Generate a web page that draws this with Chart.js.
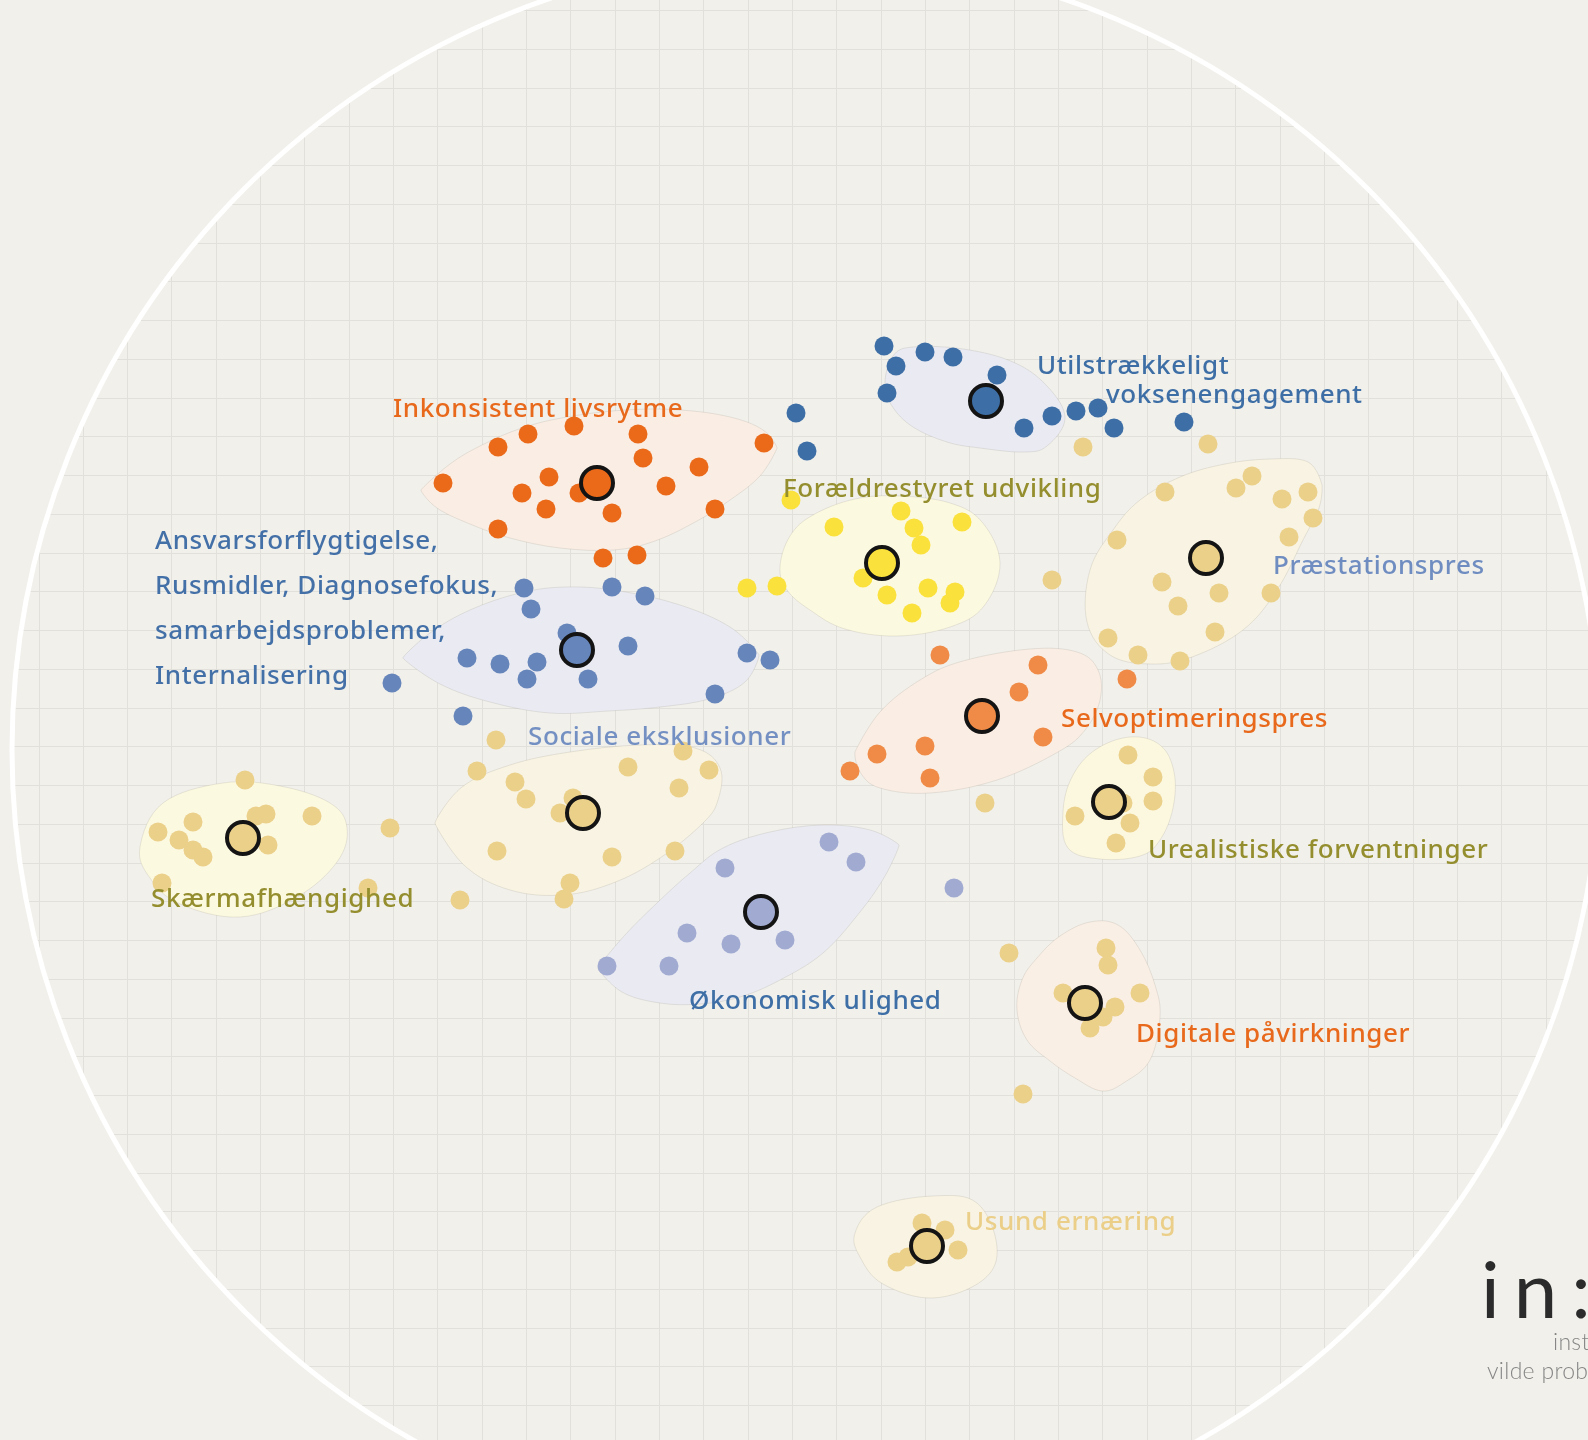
<!DOCTYPE html>
<html>
<head>
<meta charset="utf-8">
<script src="https://cdn.jsdelivr.net/npm/chart.js@4.4.1/dist/chart.umd.min.js"></script>
<style>
  html, body { margin: 0; padding: 0; background: #F1F0EB; }
  #wrap { width: 1588px; height: 1440px; }
</style>
</head>
<body>
<div id="wrap"><canvas id="map" width="1588" height="1440"></canvas></div>
<script>
// map coordinates (plane of 1588 x 1440 map units)

// --- cluster members
const inkonsistentPts = [[443,483],[498,447],[528,434],[574,426],[638,434],[643,458],[549,477],[522,493],[546,509],[579,493],[612,513],[666,486],[699,467],[764,443],[715,509],[498,529],[603,558],[637,555]];
const ansvarPts = [[524,588],[612,587],[531,609],[567,633],[467,658],[500,664],[537,662],[527,679],[588,679],[628,646],[645,596],[392,683],[463,716],[747,653],[770,660],[715,694]];
const utilPts = [[884,346],[925,352],[953,357],[896,366],[997,375],[887,393],[1052,416],[1076,411],[1098,408],[1024,428],[1114,428],[1184,422],[796,413],[807,451]];
const foraeldrePts = [[791,500],[834,527],[901,511],[914,528],[921,545],[962,522],[863,578],[887,595],[928,588],[955,592],[950,603],[912,613],[747,588],[777,586]];
const praestPts = [[1083,447],[1208,444],[1165,492],[1236,488],[1252,476],[1282,499],[1308,492],[1313,518],[1289,537],[1117,540],[1052,580],[1162,582],[1219,593],[1178,606],[1271,593],[1215,632],[1108,638],[1138,655],[1180,661]];
const selvPts = [[940,655],[1038,665],[1019,692],[1127,679],[1043,737],[925,746],[877,754],[850,771],[930,778]];
const urealPts = [[1128,755],[1153,777],[1153,801],[1130,823],[1116,843],[1075,816],[1123,803],[985,803]];
const socialePts = [[496,740],[477,771],[515,782],[526,799],[560,813],[573,798],[497,851],[612,857],[570,883],[564,899],[628,767],[683,751],[709,770],[679,788],[675,851]];
const skaermPts = [[245,780],[193,822],[158,832],[179,840],[193,850],[203,857],[256,816],[266,814],[268,845],[312,816],[390,828],[162,883],[368,888],[460,900]];
const oekonomiPts = [[829,842],[856,862],[725,868],[687,933],[731,944],[785,940],[607,966],[669,966],[954,888]];
const digitalPts = [[1106,948],[1108,965],[1063,993],[1140,993],[1115,1007],[1103,1017],[1090,1028],[1009,953],[1023,1094]];
const usundPts = [[922,1223],[945,1230],[958,1250],[897,1262],[908,1257]];

// --- cluster centres
const centres = {
  inkonsistent: [597,483], ansvar: [577,650], util: [986,401], foraeldre: [882,563],
  praest: [1206,558], selv: [982,716], ureal: [1109,802], sociale: [583,813],
  skaerm: [243,838], oekonomi: [761,912], digital: [1085,1003], usund: [927,1246]
};

// --- hull outlines
const inkonsistentHull = [[421,490],[450,464],[482,445],[522,428],[567,417],[625,410],[680,410],[730,417],[763,430],[777,448],[760,476],[730,500],[697,521],[655,541],[613,550],[560,548],[510,538],[470,524],[437,508]];
const ansvarHull = [[403,658],[430,633],[470,610],[520,593],[567,587],[620,591],[680,605],[730,627],[759,655],[745,682],[709,699],[660,707],[608,711],[550,713],[490,702],[440,684]];
const utilHull = [[885,383],[893,356],[913,347],[963,349],[1013,362],[1047,386],[1065,418],[1047,446],[1023,452],[980,448],[947,442],[913,427],[892,406]];
const foraeldreHull = [[780,567],[790,536],[813,515],[855,499],[900,496],[950,503],[982,522],[1000,563],[984,606],[950,627],[897,636],[845,629],[810,610],[787,590]];
const praestHull = [[1322,485],[1319,508],[1303,540],[1277,590],[1243,630],[1192,657],[1150,664],[1110,655],[1087,622],[1090,570],[1113,530],[1140,500],[1180,477],[1225,464],[1270,459],[1308,462]];
const selvHull = [[855,752],[880,712],[920,680],[963,661],[1030,649],[1077,652],[1098,670],[1100,700],[1085,730],[1058,752],[997,780],[930,793],[880,788],[860,772]];
const urealHull = [[1063,812],[1072,777],[1095,750],[1130,737],[1160,745],[1174,772],[1173,808],[1160,840],[1140,856],[1100,859],[1068,848]];
const socialeHull = [[435,823],[462,787],[510,765],[570,752],[640,745],[695,748],[720,768],[718,800],[703,823],[660,858],[613,883],[563,895],[510,890],[465,866]];
const skaermHull = [[140,847],[163,803],[223,783],[280,786],[330,803],[347,828],[337,862],[297,897],[240,917],[180,904],[150,878]];
const oekonomiHull = [[598,968],[625,935],[657,903],[690,873],[723,848],[770,832],[823,825],[870,830],[899,845],[885,876],[860,912],[823,953],[780,980],[740,997],[700,1004],[660,1003],[622,992]];
const digitalHull = [[1017,1010],[1022,980],[1037,958],[1060,936],[1090,922],[1118,925],[1140,950],[1155,985],[1160,1017],[1150,1060],[1125,1082],[1102,1091],[1075,1078],[1050,1061],[1027,1040]];
const usundHull = [[855,1233],[877,1207],[933,1196],[977,1203],[997,1247],[983,1280],[933,1298],[883,1284],[860,1257]];

// --- text
const labels = [
  { text: 'Inkonsistent livsrytme', at: [393,410], color: '#E8691B' },
  { text: 'Utilstrækkeligt', at: [1037,367], color: '#3D6EA5' },
  { text: 'voksenengagement', at: [1106,396], color: '#3D6EA5' },
  { text: 'Forældrestyret udvikling', at: [783,490], color: '#948E2E' },
  { text: 'Ansvarsforflygtigelse,', at: [155,542], color: '#4470A8' },
  { text: 'Rusmidler, Diagnosefokus,', at: [155,587], color: '#4470A8' },
  { text: 'samarbejdsproblemer,', at: [155,632], color: '#4470A8' },
  { text: 'Internalisering', at: [155,677], color: '#4470A8' },
  { text: 'Præstationspres', at: [1273,567], color: '#6F8DC1' },
  { text: 'Selvoptimeringspres', at: [1061,720], color: '#E8691B' },
  { text: 'Sociale eksklusioner', at: [528,738], color: '#7490C3' },
  { text: 'Urealistiske forventninger', at: [1148,851], color: '#948E2E' },
  { text: 'Skærmafhængighed', at: [151,900], color: '#948E2E' },
  { text: 'Økonomisk ulighed', at: [689,1002], color: '#3D6EA5' },
  { text: 'Digitale påvirkninger', at: [1136,1035], color: '#E8691B' },
  { text: 'Usund ernæring', at: [965,1223], color: '#EBCF88' }
];

const BG = '#F1F0EB';
const ORANGE = '#EA6A1A', ORANGE2 = '#EF8B46', BLUE = '#3D6EA5', BLUE2 = '#6685BA',
      LAV = '#A1AAD1', TAN = '#EBD08A', YELLOW = '#FAE13C';

const clusters = [
  { pts: inkonsistentPts, c: centres.inkonsistent, hull: inkonsistentHull, tips: [0, 9], dot: ORANGE, fill: '#FAEEE4' },
  { pts: ansvarPts, c: centres.ansvar, hull: ansvarHull, tips: [0, 8], dot: BLUE2, fill: '#EAEBF2' },
  { pts: utilPts, c: centres.util, hull: utilHull, tips: [], dot: BLUE, fill: '#EAEBF2' },
  { pts: foraeldrePts, c: centres.foraeldre, hull: foraeldreHull, tips: [], dot: YELLOW, fill: '#FCF9E1' },
  { pts: praestPts, c: centres.praest, hull: praestHull, tips: [0], dot: TAN, fill: '#F8F3E2' },
  { pts: selvPts, c: centres.selv, hull: selvHull, tips: [0], dot: ORANGE2, fill: '#FAEEE4' },
  { pts: urealPts, c: centres.ureal, hull: urealHull, tips: [], dot: TAN, fill: '#FCF8E0' },
  { pts: socialePts, c: centres.sociale, hull: socialeHull, tips: [0], dot: TAN, fill: '#F8F3E2' },
  { pts: skaermPts, c: centres.skaerm, hull: skaermHull, tips: [], dot: TAN, fill: '#FCF9E1' },
  { pts: oekonomiPts, c: centres.oekonomi, hull: oekonomiHull, tips: [0, 8], dot: LAV, fill: '#EAEBF2' },
  { pts: digitalPts, c: centres.digital, hull: digitalHull, tips: [], dot: TAN, fill: '#FAEFE5' },
  { pts: usundPts, c: centres.usund, hull: usundHull, tips: [], dot: TAN, fill: '#F8F3E2' }
];

// grid of the map (columns / rows)
const gridX = [], gridY = [];
for (let v = 39; v < 1588; v += 44.33) gridX.push(v);
for (let v = 10.5; v < 1440; v += 38.75) gridY.push(v);
const ring = { x: 806, y: 750, r: 794 };

const toXY = ([x, y]) => ({ x, y });

const datasets = [];
clusters.forEach(cl => {
  datasets.push({ data: [toXY(cl.c)], backgroundColor: cl.dot, borderColor: '#141414', borderWidth: 4, pointRadius: 16, order: 0 });
  datasets.push({ data: cl.pts.map(toXY), backgroundColor: cl.dot, borderWidth: 0, pointRadius: 9.5, order: 1 });
});

function traceBlob(ctx, p, tips) {
  const n = p.length, t = [];
  for (let i = 0; i < n; i++) {
    const a = p[(i - 1 + n) % n], b = p[(i + 1) % n];
    const k = tips.includes(i) ? 0.03 : 0.18;
    t.push([(b[0] - a[0]) * k, (b[1] - a[1]) * k]);
  }
  ctx.moveTo(p[0][0], p[0][1]);
  for (let i = 0; i < n; i++) {
    const j = (i + 1) % n;
    ctx.bezierCurveTo(p[i][0] + t[i][0], p[i][1] + t[i][1], p[j][0] - t[j][0], p[j][1] - t[j][1], p[j][0], p[j][1]);
  }
  ctx.closePath();
}

const backdrop = {
  id: 'backdrop',
  beforeDatasetsDraw(chart) {
    const { ctx, scales: { x, y } } = chart;
    const cx = x.getPixelForValue(ring.x), cy = y.getPixelForValue(ring.y);
    const r = x.getPixelForValue(ring.x + ring.r) - cx;
    ctx.save();
    // hide grid outside the ring
    ctx.beginPath();
    ctx.rect(0, 0, chart.width, chart.height);
    ctx.arc(cx, cy, r, 0, Math.PI * 2, true);
    ctx.fillStyle = BG;
    ctx.fill('evenodd');
    ctx.beginPath();
    ctx.arc(cx, cy, r, 0, Math.PI * 2);
    ctx.strokeStyle = '#FFFFFF';
    ctx.lineWidth = 5;
    ctx.stroke();
    // cluster hulls
    clusters.forEach(cl => {
      const p = cl.hull.map(([a, b]) => [x.getPixelForValue(a), y.getPixelForValue(b)]);
      ctx.beginPath();
      traceBlob(ctx, p, cl.tips);
      ctx.fillStyle = cl.fill;
      ctx.fill();
      ctx.strokeStyle = 'rgba(110,105,95,0.14)';
      ctx.lineWidth = 1;
      ctx.stroke();
    });
    ctx.restore();
  },
  afterDatasetsDraw(chart) {
    const { ctx, scales: { x, y } } = chart;
    ctx.save();
    ctx.font = '500 26px "Noto Sans"';
    ctx.letterSpacing = '0.6px';
    ctx.textBaseline = 'middle';
    ctx.textAlign = 'left';
    labels.forEach(l => {
      ctx.fillStyle = l.color;
      ctx.fillText(l.text, x.getPixelForValue(l.at[0]), y.getPixelForValue(l.at[1]));
    });
    // logo
    ctx.fillStyle = '#2B2B2B';
    ctx.textBaseline = 'alphabetic';
    ctx.font = '400 78px Lato';
    ctx.letterSpacing = '14px';
    ctx.fillText('in:', x.getPixelForValue(1481), y.getPixelForValue(1318));
    ctx.letterSpacing = '0.3px';
    ctx.fillStyle = '#858585';
    ctx.font = '300 23px Lato';
    ctx.textBaseline = 'middle';
    ctx.fillText('institut for', x.getPixelForValue(1553), y.getPixelForValue(1343));
    ctx.fillText('vilde problemer', x.getPixelForValue(1487), y.getPixelForValue(1372));
    ctx.restore();
  }
};

new Chart(document.getElementById('map'), {
  type: 'scatter',
  data: { datasets },
  options: {
    responsive: false,
    devicePixelRatio: 1,
    animation: false,
    layout: { padding: 0, autoPadding: false },
    plugins: { legend: { display: false }, tooltip: { enabled: false } },
    scales: {
      x: {
        type: 'linear', min: 0, max: 1588,
        ticks: { display: false },
        border: { display: false },
        grid: { color: '#E2E0DA', lineWidth: 1, drawTicks: false },
        afterBuildTicks: s => { s.ticks = gridX.map(v => ({ value: v })); }
      },
      y: {
        type: 'linear', min: 0, max: 1440, reverse: true,
        ticks: { display: false },
        border: { display: false },
        grid: { color: '#E2E0DA', lineWidth: 1, drawTicks: false },
        afterBuildTicks: s => { s.ticks = gridY.map(v => ({ value: v })); }
      }
    }
  },
  plugins: [backdrop]
});
</script>
</body>
</html>
